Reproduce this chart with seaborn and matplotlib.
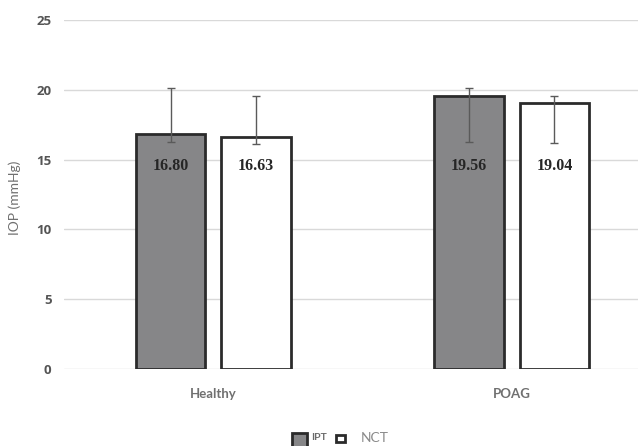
import matplotlib
matplotlib.use("Agg")
import matplotlib.pyplot as plt
import seaborn as sns
import pandas as pd
import numpy as np
from matplotlib.patches import Rectangle

# IOP measurements by group and tonometry method
groups = ["Healthy", "POAG"]
methods = ["IPT", "NCT"]
iop_ipt = [16.80, 19.56]
iop_nct = [16.63, 19.04]
err_low_ipt = [16.24, 16.24]
err_high_ipt = [20.10, 20.10]
err_low_nct = [16.15, 16.17]
err_high_nct = [19.57, 19.57]
y_ticks = [0, 5, 10, 15, 20, 25]

df = pd.DataFrame({
    "group": groups * 2,
    "method": [methods[0]] * 2 + [methods[1]] * 2,
    "iop": iop_ipt + iop_nct,
    "lo": err_low_ipt + err_low_nct,
    "hi": err_high_ipt + err_high_nct,
})

sns.set_theme(style="white")
plt.rcParams["font.family"] = ["Lato", "DejaVu Sans"]

fig = plt.figure(figsize=(6.38, 4.46), dpi=100)
W, H = 638, 446
# plot area: x-pixels 64..661 (right part runs past the canvas edge), y-pixels 20..369
ax = fig.add_axes([64 / W, (H - 369) / H, (661 - 64) / W, (369 - 20) / H])

fill_colors = {"IPT": "#868688", "NCT": "#ffffff"}
edge = "#2b2b2b"
sns.barplot(data=df, x="group", y="iop", hue="method", order=groups,
            hue_order=methods, palette=fill_colors, width=0.572, gap=0.19,
            edgecolor=edge, linewidth=2.0, errorbar=None, legend=False,
            ax=ax)

# error bars and value labels, placed at each bar's centre
for patch in ax.patches:
    x = patch.get_x() + patch.get_width() / 2
    h = patch.get_height()
    row = df.loc[np.isclose(df["iop"], h)].iloc[0]
    ax.errorbar(x, h, yerr=[[h - row["lo"]], [row["hi"] - h]], fmt="none",
                ecolor="#5a5a5a", elinewidth=1.0, capsize=2.7, capthick=1.0,
                zorder=4)
    ax.text(x, 14.55, f"{h:.2f}", ha="center", va="center", fontsize=11.5,
            fontweight="bold", family="Liberation Serif", color="#262626",
            zorder=5)

ax.set_ylim(0, 25)
ax.set_xlim(-0.5, 1.5)
ax.set_yticks(y_ticks)
ax.set_yticklabels([str(t) for t in y_ticks], fontsize=9.5, color="#555555",
                   fontweight="bold", family=["Open Sans", "DejaVu Sans"])
ax.yaxis.grid(True, color="#d9d9d9", linewidth=1.0)
ax.set_axisbelow(True)
for s in ax.spines.values():
    s.set_visible(False)
ax.tick_params(axis="y", length=0, pad=9)
ax.tick_params(axis="x", length=0, pad=14)
ax.set_xticks(range(len(groups)))
ax.set_xticklabels(groups, fontsize=9.5, color="#707070", fontweight="bold")
ax.set_xlabel("")
ax.set_ylabel("IOP (mmHg)", fontsize=10, color="#707070")
ax.yaxis.set_label_coords((21 - 64) / (661 - 64), (369 - 198) / (369 - 20))

# legend drawn as swatches beside their labels, below the plot
fig.add_artist(Rectangle((292 / W, 1 - 450 / H), 15 / W, 17 / H,
                         transform=fig.transFigure, facecolor=fill_colors["IPT"],
                         edgecolor=edge, linewidth=2.0, clip_on=False))
fig.text(311 / W, 1 - 437.5 / H, methods[0], ha="left", va="center",
         fontsize=7.5, fontweight="bold", color="#6a6a6a")
fig.add_artist(Rectangle((336 / W, 1 - 442 / H), 9 / W, 7 / H,
                         transform=fig.transFigure, facecolor=fill_colors["NCT"],
                         edgecolor=edge, linewidth=2.0, clip_on=False))
fig.text(361 / W, 1 - 438 / H, methods[1], ha="left", va="center",
         fontsize=10, color="#8a8a8a")

fig.savefig("out.png", dpi=100)
